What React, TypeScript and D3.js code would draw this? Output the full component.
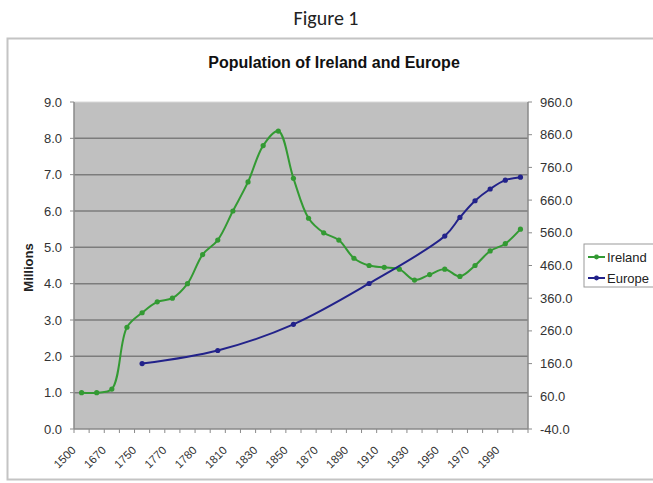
import * as d3 from "d3";

const categories = [
  "1500", "1600", "1670", "1700", "1750", "1760", "1770", "1775", "1780", "1800",
  "1810", "1820", "1830", "1840", "1850", "1860", "1870", "1880", "1890", "1900",
  "1910", "1920", "1930", "1940", "1950", "1960", "1970", "1980", "1990", "2000",
];

// shown under the axis (every second category)
const shownLabels = [
  "1500", "1670", "1750", "1770", "1780", "1810", "1830", "1850",
  "1870", "1890", "1910", "1930", "1950", "1970", "1990",
];

// Ireland, millions (left axis)
const ireland = [
  1.0, 1.0, 1.1, 2.8, 3.2, 3.5, 3.6, 4.0, 4.8, 5.2,
  6.0, 6.8, 7.8, 8.2, 6.9, 5.8, 5.4, 5.2, 4.7, 4.5,
  4.45, 4.4, 4.1, 4.25, 4.4, 4.2, 4.5, 4.9, 5.1, 5.5,
];

// Europe, millions (right axis) - only some years have values
const europe: (number | null)[] = [
  null, null, null, null, 160, null, null, null, null, 200,
  null, null, null, null, 280, null, null, null, null, 405,
  null, null, null, null, 550, 607, 658, 694, 721, 730,
];

const leftTicks = [0, 1, 2, 3, 4, 5, 6, 7, 8, 9];
const rightTicks = [-40, 60, 160, 260, 360, 460, 560, 660, 760, 860, 960];

const seriesNames = ["Ireland", "Europe"];
const colors = ["#339a33", "#22228a"];

const W = 653;
const H = 483;
const PL = 74;
const PR = 528;
const PT = 102;
const PB = 429;
const FONT = "'Liberation Sans', Arial, sans-serif";

export default function App() {
  const x = d3.scaleBand<string>().domain(categories).range([PL, PR]).padding(0);
  const cx = (c: string) => (x(c) ?? 0) + x.bandwidth() / 2;
  const yL = d3.scaleLinear().domain([0, 9]).range([PB, PT]);
  const yR = d3.scaleLinear().domain([-40, 960]).range([PB, PT]);

  const irePts: [number, number][] = categories.map((c, i) => [cx(c), yL(ireland[i])]);
  const euPts: [number, number][] = [];
  categories.forEach((c, i) => {
    const v = europe[i];
    if (v != null) euPts.push([cx(c), yR(v)]);
  });

  const line = d3.line().curve(d3.curveCatmullRom.alpha(0.5));
  const allPts = [irePts, euPts];

  const boundaries = d3.range(categories.length + 1).map((i) => PL + i * x.bandwidth());

  return (
    <svg
      width={W}
      height={H}
      style={{ position: "absolute", left: 0, top: 0, background: "#fff" }}
    >
      <text
        x={326}
        y={25}
        textAnchor="middle"
        fontFamily="Carlito, 'Open Sans', sans-serif"
        fontSize={20}
        fill="#222"
      >
        Figure 1
      </text>
      <rect x={7.5} y={38.5} width={660} height={441} fill="#fff" stroke="#c4c4c4" strokeWidth={2} />

      <text x={334} y={68} textAnchor="middle" fontFamily={FONT} fontWeight="bold" fontSize={16} fill="#111">
        Population of Ireland and Europe
      </text>

      {/* plot area */}
      <rect x={PL} y={PT} width={PR - PL} height={PB - PT} fill="#c0c0c0" />
      {leftTicks.slice(1, -1).map((t) => (
        <line key={t} x1={PL} x2={PR} y1={yL(t)} y2={yL(t)} stroke="#7c7c7c" strokeWidth={1.5} />
      ))}
      <line x1={PL} x2={PR} y1={PT} y2={PT} stroke="#d8d8d8" strokeWidth={1} />

      {/* left axis */}
      <line x1={PL} x2={PL} y1={PT} y2={PB} stroke="#8a8a8a" strokeWidth={1.5} />
      {leftTicks.map((t) => (
        <g key={t}>
          <line x1={PL - 4} x2={PL} y1={yL(t)} y2={yL(t)} stroke="#8a8a8a" />
          <text x={62} y={yL(t) + 4.5} textAnchor="end" fontFamily={FONT} fontSize={13} fill="#333">
            {t.toFixed(1)}
          </text>
        </g>
      ))}
      <text
        transform={`translate(33,${(PT + PB) / 2 + 2}) rotate(-90)`}
        textAnchor="middle"
        fontFamily={FONT}
        fontWeight="bold"
        fontSize={13}
        fill="#222"
      >
        Millions
      </text>

      {/* right axis */}
      <line x1={PR} x2={PR} y1={PT} y2={PB} stroke="#8a8a8a" strokeWidth={1.5} />
      {rightTicks.map((t) => (
        <g key={t}>
          <line x1={PR} x2={PR + 4} y1={yR(t)} y2={yR(t)} stroke="#8a8a8a" />
          <text x={540} y={yR(t) + 4.5} fontFamily={FONT} fontSize={13} fill="#333">
            {t.toFixed(1)}
          </text>
        </g>
      ))}

      {/* x axis */}
      <line x1={PL} x2={PR} y1={PB} y2={PB} stroke="#8a8a8a" strokeWidth={1.5} />
      {boundaries.map((b, i) => (
        <line key={i} x1={b} x2={b} y1={PB} y2={PB + 4} stroke="#8a8a8a" />
      ))}
      {categories.map((c) =>
        shownLabels.includes(c) ? (
          <text
            key={c}
            transform={`translate(${cx(c) - 5},${PB + 22}) rotate(-45)`}
            textAnchor="end"
            fontFamily={FONT}
            fontSize={11.5}
            fill="#333"
          >
            {c}
          </text>
        ) : null
      )}

      {/* series */}
      {allPts.map((pts, s) => (
        <g key={s}>
          <path d={line(pts) ?? ""} fill="none" stroke={colors[s]} strokeWidth={2} />
          {pts.map((p, i) => (
            <circle key={i} cx={p[0]} cy={p[1]} r={2.6} fill={colors[s]} />
          ))}
        </g>
      ))}

      {/* legend */}
      <rect x={584} y={244} width={80} height={43} fill="#fff" stroke="#9a9a9a" />
      {seriesNames.map((n, i) => (
        <g key={n} transform={`translate(0,${257 + i * 21})`}>
          <line x1={588} x2={605} y1={0} y2={0} stroke={colors[i]} strokeWidth={2} />
          <circle cx={596.5} cy={0} r={2.4} fill={colors[i]} />
          <text x={607} y={4.5} fontFamily={FONT} fontSize={13} fill="#222">
            {n}
          </text>
        </g>
      ))}
    </svg>
  );
}
